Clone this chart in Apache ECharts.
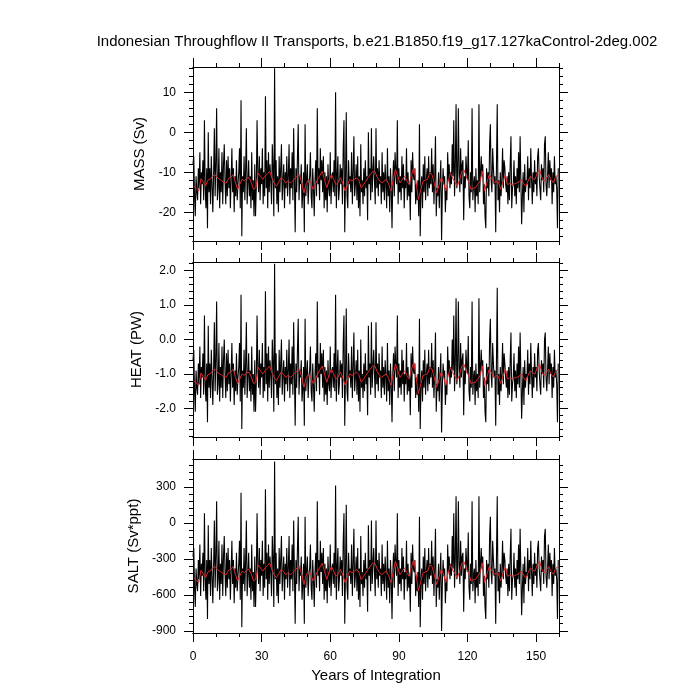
<!DOCTYPE html>
<html>
<head>
<meta charset="utf-8">
<script src="https://cdn.jsdelivr.net/npm/echarts@6/dist/echarts.min.js"></script>
<style>
  html, body { margin: 0; padding: 0; background: #fff; }
  #chart { width: 700px; height: 700px; }
</style>
</head>
<body>
<div id="chart"></div>
<script>
// tick positions / labels
const xMajorTicks = [0, 30, 60, 90, 120, 150];
const xMinorTicks = [0, 10, 20, 30, 40, 50, 60, 70, 80, 90, 100, 110, 120, 130, 140, 150, 160];
const massTicks = [-20, -10, 0, 10];
const massMinor = [-26, -24, -22, -20, -18, -16, -14, -12, -10, -8, -6, -4, -2, 0, 2, 4, 6, 8, 10, 12, 14, 16];
const heatTicks = [-2, -1, 0, 1, 2];
const heatMinor = [-2.8, -2.6, -2.4, -2.2, -2, -1.8, -1.6, -1.4, -1.2, -1, -0.8, -0.6, -0.4, -0.2, 0, 0.2, 0.4, 0.6, 0.8, 1, 1.2, 1.4, 1.6, 1.8, 2, 2.2];
const saltTicks = [-900, -600, -300, 0, 300];
const saltMinor = [-900, -840, -780, -720, -660, -600, -540, -480, -420, -360, -300, -240, -180, -120, -60, 0, 60, 120, 180, 240, 300, 360, 420, 480];

// transports, 3 samples per year (years 0..159)
const massMonthly = [
  -8,-6,-16, -21,-11,-15, -17,-9,-14, -5,-18,-10, -13,-7,-17, 3,-14,-19, -9,-24,0, -15,-9,-18, -6,-13,-20, -11,1,-16,
  -8,6,-17, -14,-4,-19, -10,-15,-5, -18,-8,-3, -12,-18,-7, -16,-6,-14, -9,-19,-12, -4,-15,-9, -20,-11,-16, -7,-17,-13,
  -10,-4,-19, 8,-26,-11, -15,-6,-17, -9,1,-18, -13,-7,-16, -11,-19,-5, -17,-12,-21, -8,-21,-14, 3,-10,-15, -6,-17,-9,
  -13,-4,-18, -10,-16,9, -14,-7,-19, -5,-15,-8, -12,-18,-3, -9,-21,16, -14,-7,-18, -11,-20,-6, -15,-9,-3, -17,-12,-8,
  -19,-10,-14, -6,-16,-11, -3,-18,-9, -14,-5,-17, 1,-12,-25, -9,-15,-6, 2,-17,-11, -13,-8,-19, -15,-10,-25, 2,-16,-12,
  -8,-18,-13, -11,-5,-16, -19,-9,-14, -21,-12,-7, -16,6,-13, -9,-17,-4, -12,-7,-15, -6,-19,-10, -17,-11,-20, -8,-14,-16,
  -5,-18,-12, -10,-15,-7, -16,10,-19, -11,-6,-17, -14,-8,-13, -9,-18,-4, 3,-25,-12, 5,-16,-19, -7,-13,-11, -15,-5,-18,
  -10,-1,-16, -13,-8,-17, -6,-19,-11, -21,-3,-15, -12,-18,-9, -16,-7,-14, -11,-22,0, -13,-9,-17, 1,-15,-10, -6,-12,-18,
  1,-14,-9, -16,-7,-13, -11,-18,-5, -15,-10,-17, -8,-13,-19, -4,-16,-11, -20,-9,-14, -24,-12,-7, -16,-5,-10, -13,3,-18,
  -9,-15,-11, -17,-6,-14, -8,-19,-12, -14,-4,-17, -10,-16,-13, -22,-7,-15, -5,-11,-12, -9,-18,-13, -17,-12,-21, 2,-26,-14,
  -11,-19,-8, -15,-6,-17, -12,-9,-16, -6,-14,-10, -13,-4,-15, -8,-18,-11, -1,-21,-14, -16,-10,-19, -12,-7,-27, -15,-9,-13,
  -11,-20,-14, -17,-5,-12, -8,-14,-10, -13,-3,-11, 3,-16,-9, 7,-14,-12, 6,-10,-15, -4,-13,-8, -7,-22,-11, -14,-6,-10,
  -12,-2,-16, -19,-10,-15, 6,-17,-13, -11,-20,-9, -16,-12,-18, 7,-15,-10, -6,-11,-8, -18,-13,-21, -24,-9,-14, -10,-16,-3,
  2,-12,-15, -4,-9,-13, -11,-25,-8, 7,-17,-12, -20,-10,-16, -12,-4,-14, -7,-9,-13, -15,-11,-18, -10,-17,-8, -1,-19,-14,
  -13,-7,-16, -11,-18,-9, -14,-5,-15, -1,-12,-23, -16,-10,-20, -8,-15,-12, -13,-6,-17, -9,-14,-4, -12,-18,-10, -15,-7,-13,
  -10,-16,-6, -4,-11,-14, -17,-8,-12, -9,-15,-3, -1,-13,-16, -11,-5,-14, -7,-12,-9, -18,-10,-15, -6,-13,-11, -14,-24,-9
];
const heatMonthly = [
  -0.6,-0.3,-1.5, -2.1,-0.9,-1.4, -1.6,-0.7,-1.3, -0.2,-1.7,-0.8, -1.1,-0.4,-1.6, 0.7,-1.3,-1.8, -0.7,-2.4,0.4, -1.4,-0.7,-1.7, -0.3,-1.1,-1.9, -0.9,0.5,-1.5,
  -0.6,1.1,-1.6, -1.3,-0.1,-1.8, -0.8,-1.4,-0.2, -1.7,-0.6,0, -1,-1.7,-0.4, -1.5,-0.3,-1.3, -0.7,-1.8,-1, -0.1,-1.4,-0.7, -1.9,-0.9,-1.5, -0.4,-1.6,-1.1,
  -0.8,-0.1,-1.8, 1.3,-2.6,-0.9, -1.4,-0.3,-1.6, -0.7,0.5,-1.7, -1.1,-0.4,-1.5, -0.9,-1.8,-0.2, -1.6,-1,-2.1, -0.6,-2.1,-1.3, 0.7,-0.8,-1.4, -0.3,-1.6,-0.7,
  -1.1,-0.1,-1.7, -0.8,-1.5,1.4, -1.3,-0.4,-1.8, -0.2,-1.4,-0.6, -1,-1.7,0, -0.7,-2.1,2.2, -1.3,-0.4,-1.7, -0.9,-1.9,-0.3, -1.4,-0.7,0, -1.6,-1,-0.6,
  -1.8,-0.8,-1.3, -0.3,-1.5,-0.9, 0,-1.7,-0.7, -1.3,-0.2,-1.6, 0.5,-1,-2.5, -0.7,-1.4,-0.3, 0.6,-1.6,-0.9, -1.1,-0.6,-1.8, -1.4,-0.8,-2.5, 0.6,-1.5,-1,
  -0.6,-1.7,-1.1, -0.9,-0.2,-1.5, -1.8,-0.7,-1.3, -2.1,-1,-0.4, -1.5,1.1,-1.1, -0.7,-1.6,-0.1, -1,-0.4,-1.4, -0.3,-1.8,-0.8, -1.6,-0.9,-1.9, -0.6,-1.3,-1.5,
  -0.2,-1.7,-1, -0.8,-1.4,-0.4, -1.5,1.3,-1.8, -0.9,-0.3,-1.6, -1.3,-0.6,-1.1, -0.7,-1.7,-0.1, 0.7,-2.5,-1, 0.9,-1.5,-1.8, -0.4,-1.1,-0.9, -1.4,-0.2,-1.7,
  -0.8,0.2,-1.5, -1.1,-0.6,-1.6, -0.3,-1.8,-0.9, -2.1,0,-1.4, -1,-1.7,-0.7, -1.5,-0.4,-1.3, -0.9,-2.2,0.4, -1.1,-0.7,-1.6, 0.5,-1.4,-0.8, -0.3,-1,-1.7,
  0.5,-1.3,-0.7, -1.5,-0.4,-1.1, -0.9,-1.7,-0.2, -1.4,-0.8,-1.6, -0.6,-1.1,-1.8, -0.1,-1.5,-0.9, -1.9,-0.7,-1.3, -2.4,-1,-0.4, -1.5,-0.2,-0.8, -1.1,0.7,-1.7,
  -0.7,-1.4,-0.9, -1.6,-0.3,-1.3, -0.6,-1.8,-1, -1.3,-0.1,-1.6, -0.8,-1.5,-1.1, -2.2,-0.4,-1.4, -0.2,-0.9,-1, -0.7,-1.7,-1.1, -1.6,-1,-2.1, 0.6,-2.6,-1.3,
  -0.9,-1.8,-0.6, -1.4,-0.3,-1.6, -1,-0.7,-1.5, -0.3,-1.3,-0.8, -1.1,-0.1,-1.4, -0.6,-1.7,-0.9, 0.2,-2.1,-1.3, -1.5,-0.8,-1.8, -1,-0.4,-2.7, -1.4,-0.7,-1.1,
  -0.9,-1.9,-1.3, -1.6,-0.2,-1, -0.6,-1.3,-0.8, -1.1,0,-0.9, 0.7,-1.5,-0.7, 1.2,-1.3,-1, 1.1,-0.8,-1.4, -0.1,-1.1,-0.6, -0.4,-2.2,-0.9, -1.3,-0.3,-0.8,
  -1,0.1,-1.5, -1.8,-0.8,-1.4, 1.1,-1.6,-1.1, -0.9,-1.9,-0.7, -1.5,-1,-1.7, 1.2,-1.4,-0.8, -0.3,-0.9,-0.6, -1.7,-1.1,-2.1, -2.4,-0.7,-1.3, -0.8,-1.5,0,
  0.6,-1,-1.4, -0.1,-0.7,-1.1, -0.9,-2.5,-0.6, 1.5,-1.6,-1, -1.9,-0.8,-1.5, -1,-0.1,-1.3, -0.4,-0.7,-1.1, -1.4,-0.9,-1.7, -0.8,-1.6,-0.6, 0.2,-1.8,-1.3,
  -1.1,-0.4,-1.5, -0.9,-1.7,-0.7, -1.3,-0.2,-1.4, 0.2,-1,-2.3, -1.5,-0.8,-1.9, -0.6,-1.4,-1, -1.1,-0.3,-1.6, -0.7,-1.3,-0.1, -1,-1.7,-0.8, -1.4,-0.4,-1.1,
  -0.8,-1.5,-0.3, -0.1,-0.9,-1.3, -1.6,-0.6,-1, -0.7,-1.4,0, 0.2,-1.1,-1.5, -0.9,-0.2,-1.3, -0.4,-1,-0.7, -1.7,-0.8,-1.4, -0.3,-1.1,-0.9, -1.3,-2.4,-0.7
];
const saltMonthly = [
  -280,-210,-540, -700,-380,-510, -570,-310,-470, -180,-610,-340, -440,-250,-570, 80,-470,-640, -310,-800,-20, -510,-310,-610, -210,-440,-670, -380,20,-540,
  -280,180,-570, -470,-150,-640, -340,-510,-180, -610,-280,-110, -410,-610,-250, -540,-210,-470, -310,-640,-410, -150,-510,-310, -670,-380,-540, -250,-570,-440,
  -340,-150,-640, 250,-870,-380, -510,-210,-570, -310,20,-610, -440,-250,-540, -380,-640,-180, -570,-410,-700, -280,-700,-470, 80,-340,-510, -210,-570,-310,
  -440,-150,-610, -340,-540,280, -470,-250,-640, -180,-510,-280, -410,-610,-110, -310,-700,510, -470,-250,-610, -380,-670,-210, -510,-310,-110, -570,-410,-280,
  -640,-340,-470, -210,-540,-380, -110,-610,-310, -470,-180,-570, 20,-410,-840, -310,-510,-210, 50,-570,-380, -440,-280,-640, -510,-340,-840, 50,-540,-410,
  -280,-610,-440, -380,-180,-540, -640,-310,-470, -700,-410,-250, -540,180,-440, -310,-570,-150, -410,-250,-510, -210,-640,-340, -570,-380,-670, -280,-470,-540,
  -180,-610,-410, -340,-510,-250, -540,310,-640, -380,-210,-570, -470,-280,-440, -310,-610,-150, 80,-840,-410, 150,-540,-640, -250,-440,-380, -510,-180,-610,
  -340,-50,-540, -440,-280,-570, -210,-640,-380, -700,-110,-510, -410,-610,-310, -540,-250,-470, -380,-740,-20, -440,-310,-570, 20,-510,-340, -210,-410,-610,
  20,-470,-310, -540,-250,-440, -380,-610,-180, -510,-340,-570, -280,-440,-640, -150,-540,-380, -670,-310,-470, -800,-410,-250, -540,-180,-340, -440,80,-610,
  -310,-510,-380, -570,-210,-470, -280,-640,-410, -470,-150,-570, -340,-540,-440, -740,-250,-510, -180,-380,-410, -310,-610,-440, -570,-410,-700, 50,-870,-470,
  -380,-640,-280, -510,-210,-570, -410,-310,-540, -210,-470,-340, -440,-150,-510, -280,-610,-380, -50,-700,-470, -540,-340,-640, -410,-250,-900, -510,-310,-440,
  -380,-670,-470, -570,-180,-410, -280,-470,-340, -440,-110,-380, 80,-540,-310, 220,-470,-410, 180,-340,-510, -150,-440,-280, -250,-740,-380, -470,-210,-340,
  -410,-80,-540, -640,-340,-510, 180,-570,-440, -380,-670,-310, -540,-410,-610, 220,-510,-340, -210,-380,-280, -610,-440,-700, -800,-310,-470, -340,-540,-110,
  50,-410,-510, -150,-310,-440, -380,-840,-280, 220,-570,-410, -670,-340,-540, -410,-150,-470, -250,-310,-440, -510,-380,-610, -340,-570,-280, -50,-640,-470,
  -440,-250,-540, -380,-610,-310, -470,-180,-510, -50,-410,-770, -540,-340,-670, -280,-510,-410, -440,-210,-570, -310,-470,-150, -410,-610,-340, -510,-250,-440,
  -340,-540,-210, -150,-380,-470, -570,-280,-410, -310,-510,-110, -50,-440,-540, -380,-180,-470, -250,-410,-310, -610,-340,-510, -210,-440,-380, -470,-800,-310
];

// annual means (red), years 0..159
const massAnnual = [
  -13.5,-14.2,-14.7,-11.6,-12.5,-13.4,-12.0,-11.8,-11.0,-10.6,
  -11.2,-11.8,-12.1,-12.6,-12.7,-11.6,-11.3,-10.6,-12.4,-14.3,
  -13.0,-11.8,-12.2,-11.5,-11.4,-12.6,-14.3,-13.8,-10.2,-11.0,
  -11.8,-11.0,-10.4,-9.8,-11.5,-12.7,-13.5,-12.4,-11.4,-11.8,
  -12.7,-12.2,-12.7,-12.3,-11.6,-11.0,-10.6,-12.5,-15.2,-12.8,
  -11.8,-12.6,-14.3,-13.0,-11.8,-10.8,-9.8,-11.9,-13.9,-12.0,
  -10.6,-11.8,-13.1,-12.5,-11.4,-12.8,-14.7,-13.2,-11.8,-12.2,
  -11.8,-11.4,-12.0,-13.9,-13.2,-12.3,-11.4,-10.6,-9.8,-9.8,
  -11.2,-12.1,-12.7,-12.2,-11.8,-12.9,-14.7,-12.0,-9.3,-11.0,
  -12.7,-11.8,-11.0,-12.2,-13.1,-10.6,-8.9,-12.4,-16.8,-14.6,
  -12.3,-12.0,-11.8,-10.2,-10.6,-12.8,-15.2,-13.4,-11.4,-12.5,
  -14.7,-12.4,-10.2,-11.5,-12.4,-13.5,-12.0,-9.8,-9.4,-11.2,
  -12.3,-14.3,-14.0,-13.9,-13.0,-12.3,-9.8,-14.7,-12.6,-10.6,
  -11.5,-12.7,-12.3,-12.4,-14.3,-12.4,-10.6,-13.1,-12.8,-13.1,
  -12.9,-12.7,-12.4,-11.8,-12.8,-13.5,-12.2,-11.0,-11.6,-11.8,
  -10.2,-9.3,-11.3,-12.3,-11.5,-10.6,-11.8,-12.6,-11.2,-10.6
];
const heatAnnual = [
  -1.19,-1.27,-1.33,-0.97,-1.08,-1.18,-1.02,-1.00,-0.91,-0.86,
  -0.93,-1.00,-1.03,-1.09,-1.10,-0.97,-0.94,-0.86,-1.07,-1.28,
  -1.14,-1.00,-1.04,-0.96,-0.95,-1.09,-1.28,-1.23,-0.81,-0.91,
  -1.00,-0.91,-0.84,-0.77,-0.96,-1.10,-1.19,-1.07,-0.95,-1.00,
  -1.10,-1.04,-1.10,-1.05,-0.97,-0.91,-0.86,-1.08,-1.39,-1.11,
  -1.00,-1.09,-1.28,-1.14,-1.00,-0.88,-0.77,-1.01,-1.24,-1.02,
  -0.86,-1.00,-1.15,-1.08,-0.95,-1.11,-1.33,-1.16,-1.00,-1.04,
  -1.00,-0.95,-1.02,-1.24,-1.16,-1.05,-0.95,-0.86,-0.77,-0.77,
  -0.93,-1.03,-1.10,-1.04,-1.00,-1.12,-1.33,-1.02,-0.71,-0.91,
  -1.10,-1.00,-0.91,-1.04,-1.15,-0.86,-0.66,-1.07,-1.57,-1.32,
  -1.05,-1.02,-1.00,-0.81,-0.86,-1.11,-1.39,-1.18,-0.95,-1.08,
  -1.33,-1.07,-0.81,-0.96,-1.07,-1.19,-1.02,-0.77,-0.72,-0.93,
  -1.05,-1.28,-1.25,-1.24,-1.14,-1.05,-0.77,-1.33,-1.09,-0.86,
  -0.96,-1.10,-1.05,-1.07,-1.28,-1.07,-0.86,-1.15,-1.11,-1.15,
  -1.12,-1.10,-1.07,-1.00,-1.11,-1.19,-1.04,-0.91,-0.97,-1.00,
  -0.81,-0.71,-0.94,-1.05,-0.96,-0.86,-1.00,-1.09,-0.93,-0.86
];
const saltAnnual = [
  -458,-481,-497,-395,-425,-455,-409,-402,-376,-363,
  -382,-402,-412,-428,-432,-395,-386,-363,-422,-484,
  -441,-402,-415,-392,-389,-428,-484,-468,-350,-376,
  -402,-376,-356,-336,-392,-432,-458,-422,-389,-402,
  -432,-415,-432,-418,-395,-376,-363,-425,-514,-435,
  -402,-428,-484,-441,-402,-369,-336,-405,-471,-409,
  -363,-402,-445,-425,-389,-435,-497,-448,-402,-415,
  -402,-389,-409,-471,-448,-418,-389,-363,-336,-336,
  -382,-412,-432,-415,-402,-438,-497,-409,-320,-376,
  -432,-402,-376,-415,-445,-363,-307,-422,-566,-494,
  -418,-409,-402,-350,-363,-435,-514,-455,-389,-425,
  -497,-422,-350,-392,-422,-458,-409,-336,-323,-382,
  -418,-484,-474,-471,-441,-418,-336,-497,-428,-363,
  -392,-432,-418,-422,-484,-422,-363,-445,-435,-445,
  -438,-432,-422,-402,-435,-458,-415,-376,-395,-402,
  -350,-320,-386,-418,-392,-363,-402,-428,-382,-363
];

const FONT = "'Liberation Sans', Arial, sans-serif";

function monthlyPairs(arr) {
    return arr.map((v, i) => [i / 3, v]);
}
function annualPairs(arr) {
    return arr.map((v, i) => [i + 0.5, v]);
}

const panels = [
    { name: 'MASS (Sv)', min: -27.2, max: 16.3, major: massTicks, minor: massMinor, fmt: v => String(v), gap: 41, black: massMonthly, red: massAnnual },
    { name: 'HEAT (PW)', min: -2.83, max: 2.25, major: heatTicks, minor: heatMinor, fmt: v => v.toFixed(1), gap: 46, black: heatMonthly, red: heatAnnual },
    { name: 'SALT (Sv*ppt)', min: -917, max: 531, major: saltTicks, minor: saltMinor, fmt: v => String(v), gap: 49, black: saltMonthly, red: saltAnnual }
];
const gridBoxes = [
    { top: 67, height: 174 },
    { top: 262, height: 175 },
    { top: 459, height: 174 }
];

const lineCol = { color: '#000', width: 1 };
const grid = [], xAxis = [], yAxis = [], series = [];

panels.forEach((p, g) => {
    grid.push({ left: 193, width: 366, top: gridBoxes[g].top, height: gridBoxes[g].height, containLabel: false });

    const last = g === panels.length - 1;
    const xBase = { type: 'value', gridIndex: g, min: 0, max: 160, splitLine: { show: false },
        axisLine: { onZero: false, lineStyle: lineCol }, axisLabel: { show: false } };
    // order: bottom major, top major, then the two minor ones
    xAxis.push({ ...xBase, position: 'bottom',
        axisTick: { length: 9, lineStyle: lineCol, customValues: xMajorTicks },
        axisLabel: last ? { show: true, customValues: xMajorTicks, margin: 18, fontSize: 12, color: '#000', fontFamily: FONT } : { show: false },
        name: last ? 'Years of Integration' : '', nameLocation: 'middle', nameGap: 35,
        nameTextStyle: { fontSize: 15, color: '#000', fontFamily: FONT } });
    xAxis.push({ ...xBase, position: 'top', axisTick: { length: 9, lineStyle: lineCol, customValues: xMajorTicks } });
    xAxis.push({ ...xBase, position: 'bottom', axisTick: { length: 4, lineStyle: lineCol, customValues: xMinorTicks } });
    xAxis.push({ ...xBase, position: 'top', axisTick: { length: 4, lineStyle: lineCol, customValues: xMinorTicks } });

    const yBase = { type: 'value', gridIndex: g, min: p.min, max: p.max, splitLine: { show: false },
        axisLine: { onZero: false, lineStyle: lineCol }, axisLabel: { show: false } };
    yAxis.push({ ...yBase, position: 'left',
        axisTick: { length: 9, lineStyle: lineCol, customValues: p.major },
        axisLabel: { show: true, customValues: p.major, formatter: p.fmt, margin: 17, fontSize: 12, color: '#000', fontFamily: FONT },
        name: p.name, nameLocation: 'middle', nameGap: p.gap,
        nameTextStyle: { fontSize: 15, color: '#000', fontFamily: FONT } });
    yAxis.push({ ...yBase, position: 'right', axisTick: { length: 9, lineStyle: lineCol, customValues: p.major } });
    yAxis.push({ ...yBase, position: 'left', axisTick: { length: 4, lineStyle: lineCol, customValues: p.minor } });
    yAxis.push({ ...yBase, position: 'right', axisTick: { length: 4, lineStyle: lineCol, customValues: p.minor } });

    series.push({
        type: 'line', xAxisIndex: g * 4, yAxisIndex: g * 4,
        data: monthlyPairs(p.black), showSymbol: false, silent: true,
        lineStyle: { color: '#000', width: 1.1 }
    });
    series.push({
        type: 'line', xAxisIndex: g * 4, yAxisIndex: g * 4,
        data: annualPairs(p.red), showSymbol: false, silent: true,
        lineStyle: { color: '#e0262a', width: 1 }
    });
});

const myChart = echarts.init(document.getElementById('chart'));
const option = {
    animation: false,
    backgroundColor: '#fff',
    grid: grid,
    xAxis: xAxis,
    yAxis: yAxis,
    series: series,
    graphic: [{
        type: 'text', x: 377, y: 42,
        style: {
            text: 'Indonesian Throughflow II Transports, b.e21.B1850.f19_g17.127kaControl-2deg.002',
            fontSize: 15, fontFamily: FONT, fill: '#000', align: 'center', verticalAlign: 'middle'
        }
    }]
};
myChart.setOption(option);
</script>
</body>
</html>
